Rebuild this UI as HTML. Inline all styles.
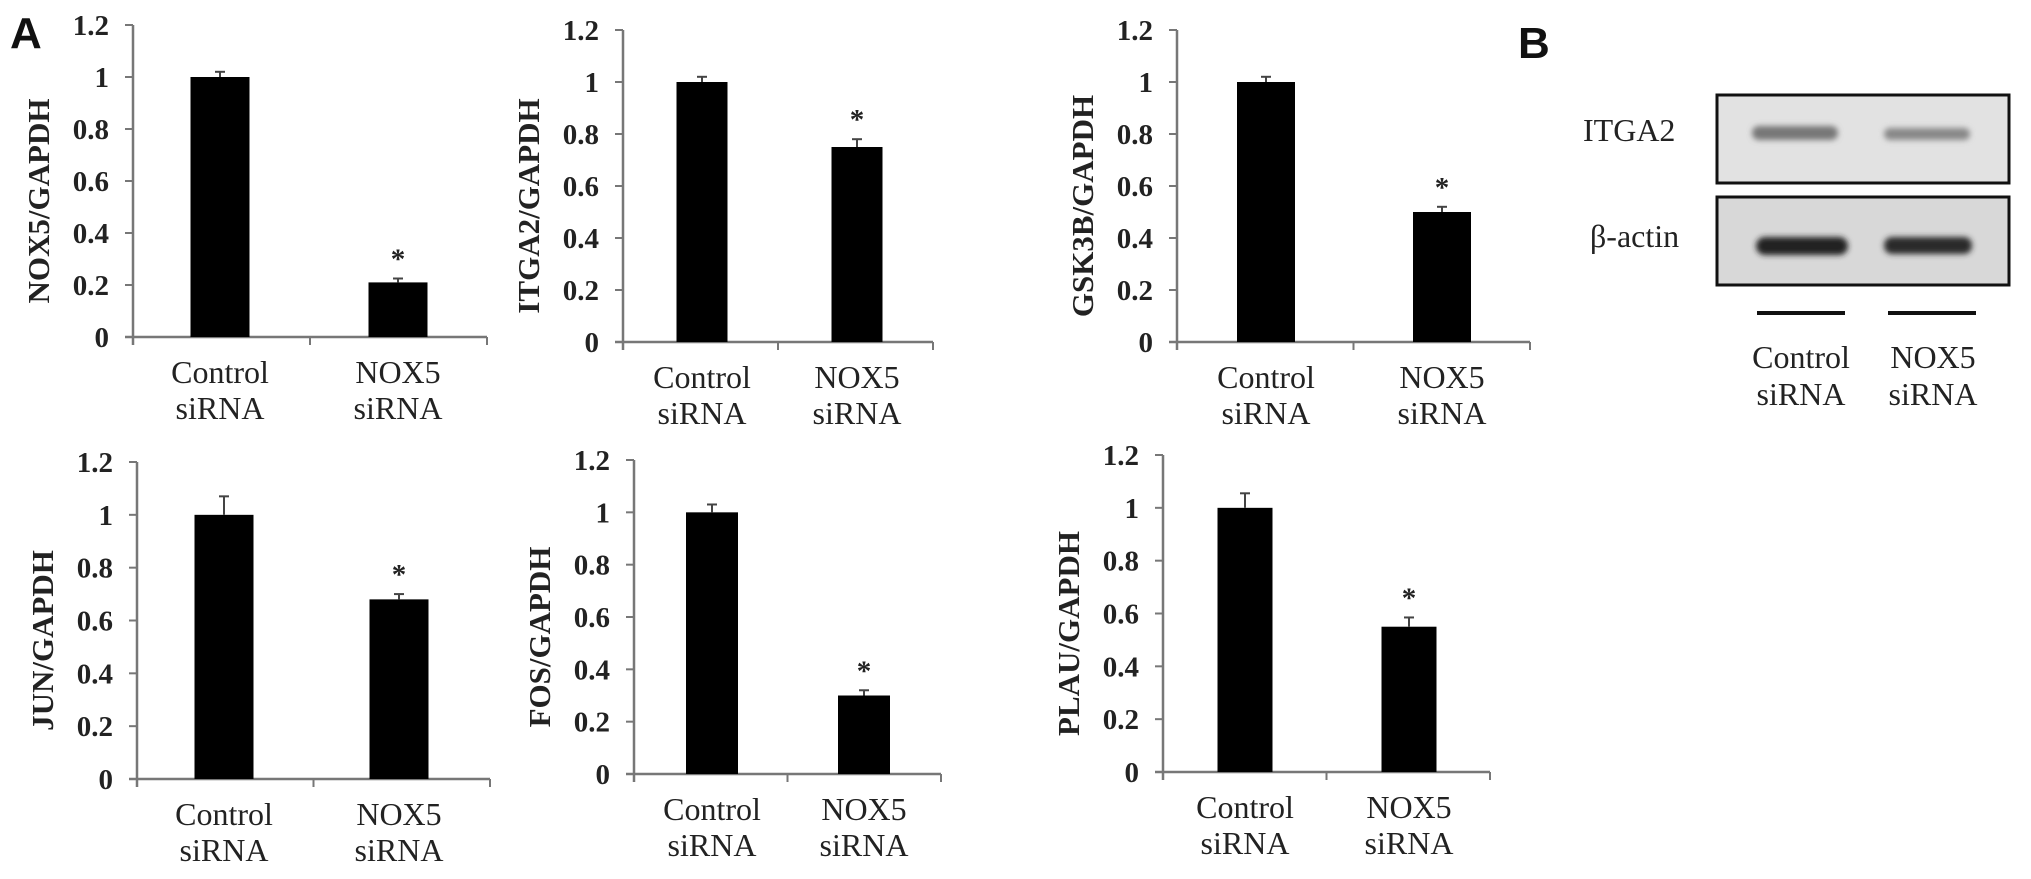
<!DOCTYPE html>
<html><head><meta charset="utf-8"><style>
html,body{margin:0;padding:0;background:#fff}
svg{display:block}
.tk{font-family:"Liberation Serif",serif;font-weight:bold;font-size:29px;fill:#222}
.yt{font-family:"Liberation Serif",serif;font-weight:bold;font-size:31px;fill:#222}
.xl{font-family:"Liberation Serif",serif;font-size:32px;fill:#222}
.pl{font-family:"Liberation Sans",sans-serif;font-weight:bold;font-size:44px;fill:#111}
</style></head><body>
<svg id="fig" width="2031" height="879" viewBox="0 0 2031 879" xmlns="http://www.w3.org/2000/svg">
<defs><filter id="bl" x="-20%" y="-100%" width="140%" height="300%"><feGaussianBlur stdDeviation="3"/></filter></defs>
<text x="10" y="48" class="pl">A</text>
<text x="1518" y="58" class="pl">B</text>
<g>
<rect x="1717" y="95" width="292" height="88" fill="#e2e2e2" stroke="#111" stroke-width="3"/>
<rect x="1717" y="197" width="292" height="88" fill="#d8d8d8" stroke="#111" stroke-width="3"/>
<rect x="1752" y="126" width="86" height="14" rx="7" fill="#777" filter="url(#bl)"/>
<rect x="1884" y="128" width="86" height="12" rx="6" fill="#888" filter="url(#bl)"/>
<rect x="1756" y="237" width="92" height="18" rx="9" fill="#222" filter="url(#bl)"/>
<rect x="1884" y="237" width="88" height="17" rx="8" fill="#2a2a2a" filter="url(#bl)"/>
<text x="1583" y="141" class="xl" font-family="Liberation Serif, serif">ITGA2</text>
<text x="1590" y="247" class="xl" font-family="Liberation Serif, DejaVu Serif, serif">β-actin</text>
<rect x="1757" y="311" width="88" height="4" fill="#111"/>
<rect x="1888" y="311" width="88" height="4" fill="#111"/>
<text x="1801" y="368" text-anchor="middle" class="xl" font-family="Liberation Serif, serif">Control</text>
<text x="1801" y="405" text-anchor="middle" class="xl" font-family="Liberation Serif, serif">siRNA</text>
<text x="1933" y="368" text-anchor="middle" class="xl" font-family="Liberation Serif, serif">NOX5</text>
<text x="1933" y="405" text-anchor="middle" class="xl" font-family="Liberation Serif, serif">siRNA</text>
</g>
</svg>
<script>
const genes = ["NOX5","ITGA2","GSK3B","JUN","FOS","PLAU"];
const categories = [["Control","siRNA"],["NOX5","siRNA"]];
const controlValues = [1.0,1.0,1.0,1.0,1.0,1.0];
const nox5Values = [0.21,0.75,0.50,0.68,0.30,0.55];
const controlErr = [0.02,0.02,0.02,0.07,0.03,0.055];
const nox5Err = [0.015,0.03,0.02,0.02,0.02,0.035];
const tickLabels = ["0","0.2","0.4","0.6","0.8","1","1.2"];
const tickValues = [0,0.2,0.4,0.6,0.8,1,1.2];
const layout = [
 {ax:133,top:25,zero:337,end:487,c:[220,398],bw:59},
 {ax:623,top:30,zero:342,end:933,c:[702,857],bw:51},
 {ax:1177,top:30,zero:342,end:1530,c:[1266,1442],bw:58},
 {ax:137,top:462,zero:779,end:490,c:[224,399],bw:59},
 {ax:634,top:460,zero:774,end:941,c:[712,864],bw:52},
 {ax:1163,top:455,zero:772,end:1490,c:[1245,1409],bw:55}
];
const NS="http://www.w3.org/2000/svg";
const fig=document.getElementById('fig');
function mk(tag,attrs,parent,txt){const e=document.createElementNS(NS,tag);for(const k in attrs)e.setAttribute(k,attrs[k]);if(txt!==undefined)e.textContent=txt;parent.appendChild(e);return e;}
genes.forEach((g,i)=>{
 const L=layout[i];
 const y=v=>L.zero-(v/1.2)*(L.zero-L.top);
 const grp=mk('g',{},fig);
 
 
 const ya=mk('line',{x1:L.ax,y1:L.top,x2:L.ax,y2:L.zero+8,stroke:'#777','stroke-width':2.5},grp);
 
 
 const xa=mk('line',{x1:L.ax-8,y1:L.zero,x2:L.end,y2:L.zero,stroke:'#777','stroke-width':2.5},grp);
 
 
 const mid=(L.ax+L.end)/2;
 [mid,L.end].forEach(xx=>{const t=mk('line',{x1:xx,y1:L.zero,x2:xx,y2:L.zero+8,stroke:'#777','stroke-width':2},grp);
  
  });
 tickValues.forEach((tv,k)=>{
  const t=mk('line',{x1:L.ax-8,y1:y(tv),x2:L.ax,y2:y(tv),stroke:'#777','stroke-width':2},grp);
  
  
  const tl=mk('text',{x:L.ax-24,y:y(tv)+10,'text-anchor':'end',class:'tk'},grp,tickLabels[k]);
  
  
 });
 const cy=(L.top+L.zero)/2+20, cx=L.ax-95;
 const yt=mk('text',{x:cx,y:cy,'text-anchor':'middle',class:'yt',transform:`rotate(-90 ${cx} ${cy})`,dy:11},grp,g+'/GAPDH');
 
 
 const vals=[controlValues[i],nox5Values[i]], errs=[controlErr[i],nox5Err[i]];
 vals.forEach((v,j)=>{
  const cxb=L.c[j];
  const b=mk('rect',{x:cxb-L.bw/2,y:y(v),width:L.bw,height:L.zero-y(v),fill:'#000'},grp);
  
  
  const ey=y(v+errs[j]);
  const e1=mk('line',{x1:cxb,y1:y(v),x2:cxb,y2:ey,stroke:'#444','stroke-width':2},grp);
  
  
  const e2=mk('line',{x1:cxb-5,y1:ey,x2:cxb+5,y2:ey,stroke:'#444','stroke-width':2},grp);
  
  
  if(j===1){const s=mk('text',{x:cxb,y:ey-10,'text-anchor':'middle',class:'tk','font-size':'38px'},grp,'*');
   
   }
  const l1=mk('text',{x:cxb,y:L.zero+46,'text-anchor':'middle',class:'xl','font-family':'Liberation Serif, serif'},grp,categories[j][0]);
  
  
  const l2=mk('text',{x:cxb,y:L.zero+82,'text-anchor':'middle',class:'xl','font-family':'Liberation Serif, serif'},grp,categories[j][1]);
  
  
 });
});
</script>
</body></html>
